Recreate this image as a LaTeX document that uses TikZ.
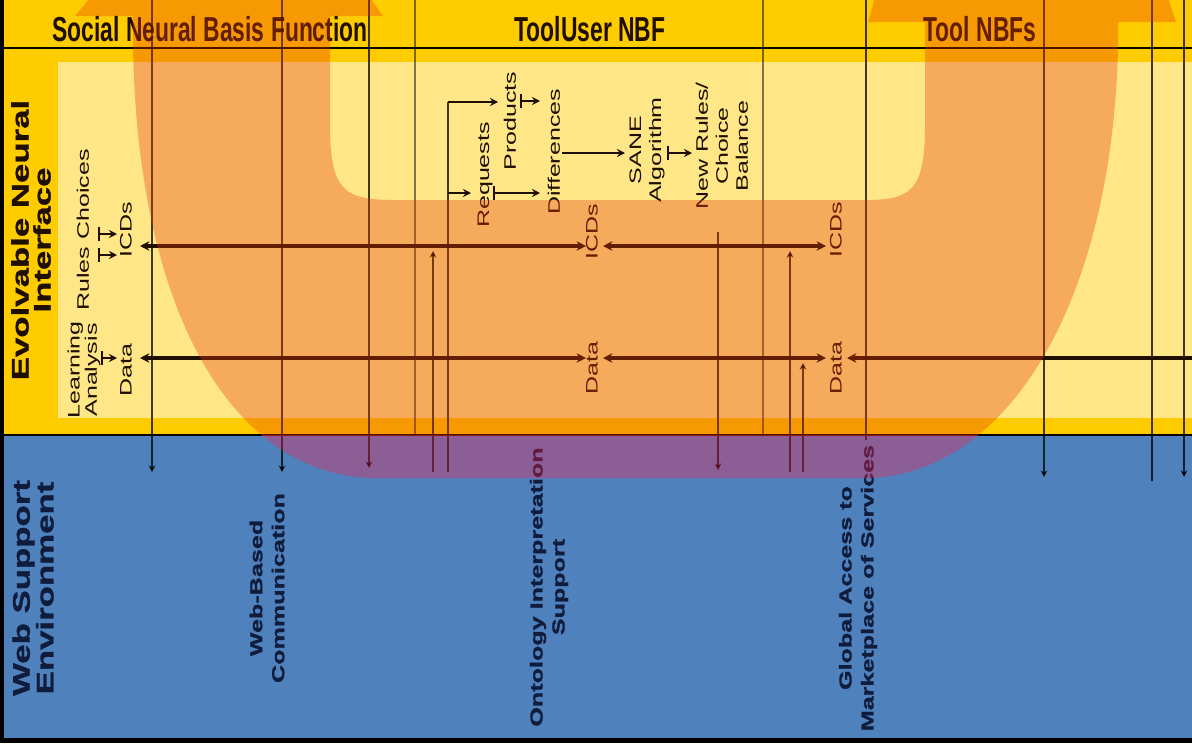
\documentclass[tikz,border=0pt]{standalone}
\usepackage{fontspec}
\setmainfont{Liberation Sans}
\newfontfamily\hdfont{Liberation Sans}[FakeStretch=0.66]
\newfontfamily\rotfont{Liberation Sans}[FakeStretch=1.5]
\newfontfamily\heavyfont{Liberation Sans}[FakeStretch=1.45,FakeBold=1.2]
\usetikzlibrary{arrows.meta}

\definecolor{gold}{RGB}{255,204,0}
\definecolor{paleyel}{RGB}{255,230,135}
\definecolor{envblue}{RGB}{79,129,189}
\definecolor{uorange}{RGB}{230,60,10}
\definecolor{upurple}{RGB}{255,30,80}
\definecolor{inkbrown}{RGB}{30,15,0}
\definecolor{inknavy}{RGB}{15,28,60}

% outline of the big U-turn arrow
\newcommand{\uturnpath}{(90,-2) -- (75,16) -- (133,16) -- (133,48) .. controls (138,310) and (230,472) .. (370,478) -- (870,478) .. controls (1010,472) and (1112,300) .. (1118,48) -- (1118,22) -- (1176,22) -- (1168,-2) -- (875,-2) -- (868,22) -- (925,22) -- (925,125) .. controls (925,190) and (912,200) .. (865,200) -- (395,200) .. controls (345,200) and (330,192) .. (330,125) -- (330,16) -- (383,16) -- (370,-2) -- cycle}

\tikzset{
  hdtext/.style={font=\hdfont\bfseries\fontsize{26}{28}\selectfont, text=inkbrown, inner sep=0pt, anchor=base},
  bandlbl/.style={rotate=90, align=center, inner sep=0pt, font=\heavyfont\bfseries\fontsize{18}{16.5}\selectfont},
  envlbl/.style={rotate=90, align=center, inner sep=0pt, text=inknavy, font=\heavyfont\bfseries\fontsize{13}{16.5}\selectfont},
  lbl/.style={rotate=90, align=center, inner sep=0pt, text=inkbrown, font=\rotfont\fontsize{12.5}{15}\selectfont},
  vline/.style={draw=black, draw opacity=0.75, line width=1.6pt},
  thinline/.style={draw=black, draw opacity=0.5, line width=0.9pt},
  drop/.style={vline, -{Stealth[length=5pt,width=5pt]}},
  flow/.style={draw=inkbrown, line width=3pt, {Stealth[length=7pt,width=7pt]}-{Stealth[length=7pt,width=7pt]}},
  feed/.style={draw=inkbrown, line width=3pt, -{Stealth[length=7pt,width=7pt]}},
  tick/.style={draw=inkbrown, line width=2pt, {Bar[width=10pt,line width=1.6pt]}-{Stealth[length=6pt,width=6pt]}},
  link/.style={draw=inkbrown, line width=2pt, -{Stealth[length=6pt,width=6pt]}},
}

\begin{document}
\begin{tikzpicture}[x=0.75pt,y=0.75pt,yscale=-1,xscale=1]
\useasboundingbox (0,0) rectangle (1192,743);
\clip (0,0) rectangle (1192,743);

%Bands
\fill[gold] (0,0) rectangle (1192,435);
\fill[paleyel] (58,62) rectangle (1192,418);
\fill[envblue] (0,435) rectangle (1192,738);
\fill[black] (0,738) rectangle (1192,743);
\fill[black] (0,0) rectangle (4,743);
\draw[line width=1.5pt] (4,48) -- (1192,48);
\draw[line width=2pt] (4,435) -- (1192,435);

% Header Text
\node[hdtext] (snbf) at (210,41) {Social Neural Basis Function};
\node[hdtext] (tuser) at (590,41) {ToolUser NBF};
\node[hdtext] (tnbf) at (980,41) {Tool NBFs};

% Band Text
\node[bandlbl, text=inkbrown] (eni) at (31,240) {Evolvable Neural\\Interface};
\node[bandlbl, text=inknavy] (wse) at (33,588) {Web Support\\Environment};
\node[envlbl] (wbc) at (267,588) {Web-Based\\Communication};
\node[envlbl] (ois) at (549,587) {Ontology Interpretation\\Support};
\node[envlbl] (gams) at (858,588) {Global Access to\\Marketplace of Services};

% Interface Text
\node[lbl, font=\rotfont\fontsize{12.5}{13}\selectfont] (learn) at (84,370) {Learning\\Analysis};
\node[lbl] (rules) at (83,230) {Rules Choices};
\node[lbl] (icdA) at (126,230) {ICDs};
\node[lbl] (dataA) at (126,370) {Data};
\node[lbl] (icdB) at (592,232) {ICDs};
\node[lbl] (dataB) at (592,368) {Data};
\node[lbl] (icdC) at (836,230) {ICDs};
\node[lbl] (dataC) at (836,368) {Data};
\node[lbl] (req) at (485,175) {Requests};
\node[lbl] (prod) at (510,121) {Products};
\node[lbl] (diff) at (554,152) {Differences};
\node[lbl] (sane) at (647,150) {SANE\\Algorithm};
\node[lbl] (newr) at (722,146) {New Rules/\\Choice\\Balance};

% Coordinates
\coordinate (icdL) at (140,246);  \coordinate (icdM) at (586,246);
\coordinate (icdN) at (603,246);  \coordinate (icdR) at (826,246);
\coordinate (datL) at (140,358);  \coordinate (datM) at (586,358);
\coordinate (datN) at (603,358);  \coordinate (datR) at (826,358);
\coordinate (datS) at (847,358);  \coordinate (datE) at (1192,358);

%Straight Lines from the header down
\draw[drop] (152,0) -- (152,472);
\draw[drop] (282,0) -- (282,472);
\draw[drop] (369,0) -- (369,468);
\draw[thinline] (415,0) -- (415,435);
\draw[thinline] (763,0) -- (763,435);
\draw[vline] (866,0) -- (866,440);
\draw[drop] (1044,0) -- (1044,477);
\draw[vline] (1152,0) -- (1152,481);
\draw[drop] (1184,0) -- (1184,477);

%Straight Lines to and from the web support band
\draw[drop] (433,472) -- (433,251);
\draw[vline] (448,472) -- (448,102);
\draw[link] (448,102) -- (498,102);
\draw[link] (448,193) -- (471,193);
\draw[drop] (718,232) -- (718,470);
\draw[drop] (790,472) -- (790,251);
\draw[drop] (803,472) -- (803,363);

%ICDs and Data lines
\draw[flow] (icdL) -- (icdM);
\draw[flow] (icdN) -- (icdR);
\draw[flow] (datL) -- (datM);
\draw[flow] (datN) -- (datR);
\draw[feed] (datE) -- (datS);

%Small arrows
\draw[tick] (98,234) -- (117,234);
\draw[tick] (98,255) -- (117,255);
\draw[tick] (101,358) -- (117,358);
\draw[tick] (493,193) -- (540,193);
\draw[tick] (520,101) -- (540,101);
\draw[link] (562,153) -- (625,153);
\draw[tick] (667,153) -- (692,153);

% U-turn overlay
\begin{scope}
\clip (0,0) rectangle (1192,435);
\fill[uorange, fill opacity=0.35] \uturnpath;
\end{scope}
\begin{scope}
\clip (0,435) rectangle (1192,743);
\fill[upurple, fill opacity=0.35] \uturnpath;
\end{scope}

\end{tikzpicture}
\end{document}
